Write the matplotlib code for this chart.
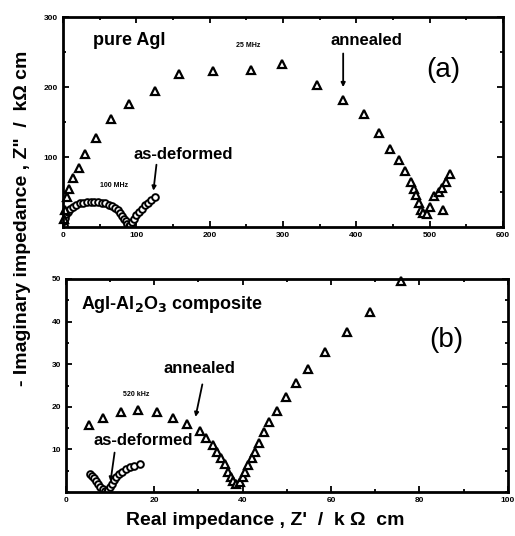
import numpy as np
import matplotlib
matplotlib.use("Agg")
import matplotlib.pyplot as plt
from matplotlib.ticker import MultipleLocator

plt.rcParams['font.family'] = ['Liberation Sans', 'DejaVu Sans']
plt.rcParams['font.weight'] = 'bold'

# panel (a): pure AgI
a_ann_x = [1, 3, 5.9, 8.6, 14, 22, 30, 45, 66, 90, 125, 158, 205, 257, 298, 346, 382,
           410, 431, 446, 458, 466, 474, 478, 481, 485, 488, 491, 496, 500, 506, 512,
           517, 522, 528, 518]
a_ann_y = [12, 25, 43, 55, 70, 85, 104, 127, 154, 176, 195, 219, 223, 224, 233, 203, 181,
           161, 134, 112, 96, 80, 65, 55, 46, 34, 24, 20, 19, 29, 45, 50,
           56, 64, 76, 25]
a_def_x = [1, 2, 3, 5, 7, 10, 14, 18, 23, 28, 33, 38, 43, 48, 53, 58, 63, 67, 71, 75, 78,
           81, 84, 86, 88, 90, 92, 94, 97, 100, 104, 108, 112, 116, 120, 126]
a_def_y = [3, 8, 13, 18, 22, 26, 29, 32, 34, 35, 36, 36, 36, 36, 35, 34, 32, 30, 27, 24, 20,
           16, 12, 8, 4, 1, 3, 7, 12, 17, 21, 26, 31, 35, 39, 43]

# panel (b): AgI-Al2O3 composite
b_ann_x = [5.3, 8.4, 12.4, 16.4, 20.5, 24.3, 27.5, 30.3, 31.8, 33.2, 34.2, 35.2, 36.0,
           36.7, 37.3, 37.9, 38.5, 39.4, 40.0, 40.5, 41.3, 42.0, 42.8, 43.7, 44.8, 46.0,
           47.8, 49.9, 52.0, 54.8, 58.7, 63.5, 68.9, 75.8]
b_ann_y = [15.7, 17.4, 18.9, 19.3, 18.9, 17.4, 15.9, 14.3, 12.6, 11.0, 9.5, 7.9, 6.5,
           4.8, 3.6, 2.6, 2.0, 2.4, 3.6, 4.8, 6.3, 7.9, 9.5, 11.4, 14.2, 16.5,
           19.0, 22.4, 25.7, 28.8, 32.9, 37.6, 42.3, 49.5]
b_def_x = [5.4, 5.8, 6.3, 6.8, 7.3, 7.8, 8.3, 8.8, 9.2, 9.6, 10.0, 10.4, 10.9, 11.4,
           12.0, 12.7, 13.5, 14.4, 15.5, 16.7]
b_def_y = [4.2, 3.8, 3.3, 2.6, 1.9, 1.2, 0.6, 0.2, 0.1, 0.4, 1.2, 2.0, 2.8, 3.5,
           4.2, 4.8, 5.3, 5.8, 6.2, 6.5]

fig = plt.figure(figsize=(5.15, 5.36), dpi=100)
ax1 = fig.add_axes([0.122, 0.5765, 0.855, 0.3915])
ax2 = fig.add_axes([0.128, 0.082, 0.858, 0.3975])

tri = dict(marker='^', ls='none', mfc='white', mec='black', ms=6, mew=1.6, clip_on=False)
circ = dict(marker='o', ls='none', mfc='white', mec='black', ms=4.8, mew=1.4)

ax1.plot(a_def_x, a_def_y, **circ)
ax1.plot(a_ann_x, a_ann_y, **tri)
ax1.set_xlim(0, 600)
ax1.set_ylim(0, 300)
ax1.xaxis.set_major_locator(MultipleLocator(100))
ax1.xaxis.set_minor_locator(MultipleLocator(50))
ax1.yaxis.set_major_locator(MultipleLocator(100))
ax1.yaxis.set_minor_locator(MultipleLocator(50))
ax1.set_yticks([100, 200, 300])

ax1.text(41, 267, "pure AgI", fontsize=13, va='center')
ax1.text(253, 259, "25 MHz", fontsize=5, va='center', ha='center')
ax1.text(50, 59, "100 MHz", fontsize=5, va='center')
ax1.text(164, 103, "as-deformed", fontsize=12, ha='center', va='center')
ax1.text(414, 267, "annealed", fontsize=12, ha='center', va='center')
ax1.text(519, 224, "(a)", fontsize=20, fontweight='normal', ha='center', va='center')
ax1.annotate("", xy=(123, 48), xytext=(128, 93),
             arrowprops=dict(arrowstyle='-|>', color='black', lw=1.3, mutation_scale=6))
ax1.annotate("", xy=(382, 196), xytext=(382, 252),
             arrowprops=dict(arrowstyle='-|>', color='black', lw=1.3, mutation_scale=6))

ax2.plot(b_def_x, b_def_y, **circ)
ax2.plot(b_ann_x, b_ann_y, **tri)
ax2.set_xlim(0, 100)
ax2.set_ylim(0, 50)
ax2.xaxis.set_major_locator(MultipleLocator(20))
ax2.xaxis.set_minor_locator(MultipleLocator(10))
ax2.yaxis.set_major_locator(MultipleLocator(10))
ax2.yaxis.set_minor_locator(MultipleLocator(5))
ax2.set_yticks([10, 20, 30, 40, 50])

ax2.text(3.5, 43.9, "AgI-Al$_\\mathbf{2}$O$_\\mathbf{3}$ composite", fontsize=13, va='center')
ax2.text(15.8, 22.8, "520 kHz", fontsize=5, ha='center', va='center')
ax2.text(30.3, 29, "annealed", fontsize=12, ha='center', va='center')
ax2.text(17.5, 12.2, "as-deformed", fontsize=12, ha='center', va='center')
ax2.text(86, 35.7, "(b)", fontsize=20, fontweight='normal', ha='center', va='center')
ax2.annotate("", xy=(29.2, 17.0), xytext=(31, 25.9),
             arrowprops=dict(arrowstyle='-|>', color='black', lw=1.3, mutation_scale=6))
ax2.annotate("", xy=(10, 1.8), xytext=(11.1, 9.9),
             arrowprops=dict(arrowstyle='-|>', color='black', lw=1.3, mutation_scale=6))

for ax in (ax1, ax2):
    for s in ax.spines.values():
        s.set_linewidth(2)
    ax.tick_params(which='both', direction='in', top=True, right=True, labelsize=6, width=1.3)
    ax.tick_params(which='major', length=4)
    ax.tick_params(which='minor', length=2)
    for lab in ax.get_xticklabels() + ax.get_yticklabels():
        lab.set_fontweight('bold')

fig.text(0.043, 0.593, "- Imaginary impedance , Z\"  /  k\u03a9 cm", rotation=90,
         fontsize=14, ha='center', va='center')
fig.text(0.515, 0.028, "Real impedance , Z'  /  k \u03a9  cm", fontsize=14,
         ha='center', va='center')

fig.savefig("out.png", dpi=100)
